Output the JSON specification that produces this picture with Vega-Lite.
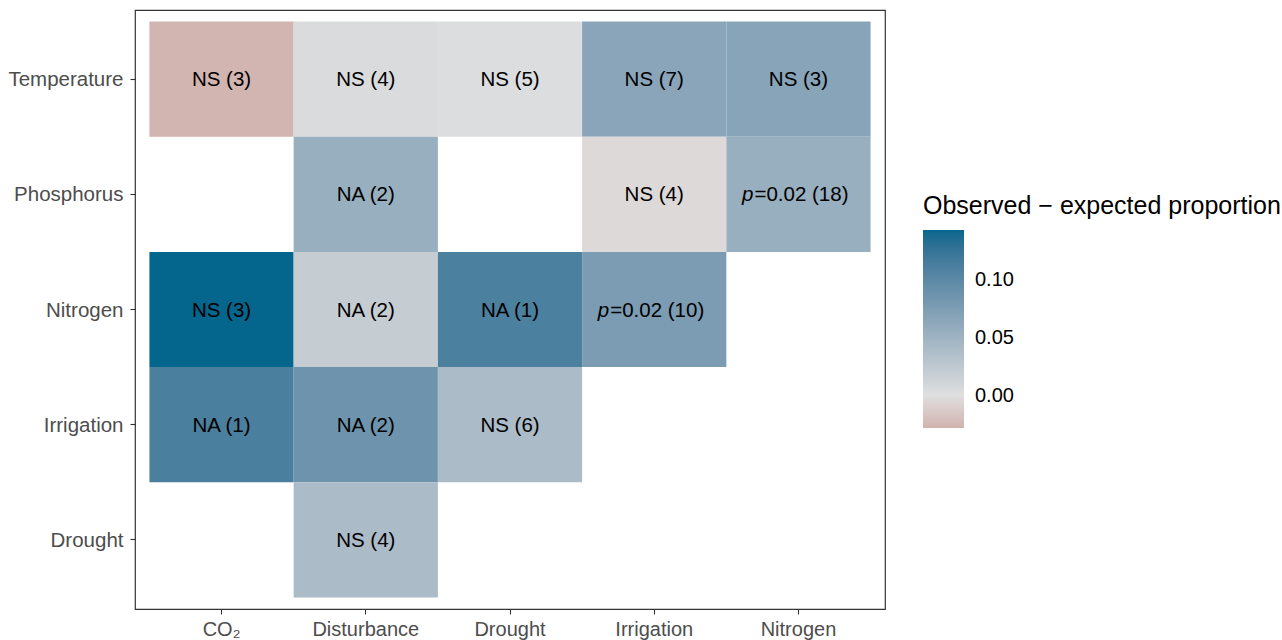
{
  "$schema": "https://vega.github.io/schema/vega-lite/v6.json",
  "width": 750,
  "height": 599,
  "autosize": {"type": "none"},
  "padding": {"left": 135, "top": 10, "right": 397, "bottom": 31},
  "background": "white",
  "config": {
    "font": "Liberation Sans",
    "view": {"stroke": "#333333", "strokeWidth": 1.2},
    "axis": {"grid": false, "domain": false, "tickColor": "#333333", "tickSize": 5, "tickWidth": 1.1, "labelColor": "#4d4d4d", "labelFontSize": 20, "labelFont": "Liberation Sans", "title": null}
  },
  "data": {
    "values": [
      {"x": "CO₂", "y": "Temperature", "value": -0.027, "label": "NS (3)", "pre": "", "rest": ""},
      {"x": "Disturbance", "y": "Temperature", "value": 0.005, "label": "NS (4)", "pre": "", "rest": ""},
      {"x": "Drought", "y": "Temperature", "value": 0.002, "label": "NS (5)", "pre": "", "rest": ""},
      {"x": "Irrigation", "y": "Temperature", "value": 0.066, "label": "NS (7)", "pre": "", "rest": ""},
      {"x": "Nitrogen", "y": "Temperature", "value": 0.067, "label": "NS (3)", "pre": "", "rest": ""},
      {"x": "Disturbance", "y": "Phosphorus", "value": 0.055, "label": "NA (2)", "pre": "", "rest": ""},
      {"x": "Irrigation", "y": "Phosphorus", "value": -0.004, "label": "NS (4)", "pre": "", "rest": ""},
      {"x": "Nitrogen", "y": "Phosphorus", "value": 0.055, "label": "", "pre": "p", "rest": "=0.02 (18)"},
      {"x": "CO₂", "y": "Nitrogen", "value": 0.143, "label": "NS (3)", "pre": "", "rest": ""},
      {"x": "Disturbance", "y": "Nitrogen", "value": 0.02, "label": "NA (2)", "pre": "", "rest": ""},
      {"x": "Drought", "y": "Nitrogen", "value": 0.111, "label": "NA (1)", "pre": "", "rest": ""},
      {"x": "Irrigation", "y": "Nitrogen", "value": 0.077, "label": "", "pre": "p", "rest": "=0.02 (10)"},
      {"x": "CO₂", "y": "Irrigation", "value": 0.112, "label": "NA (1)", "pre": "", "rest": ""},
      {"x": "Disturbance", "y": "Irrigation", "value": 0.087, "label": "NA (2)", "pre": "", "rest": ""},
      {"x": "Drought", "y": "Irrigation", "value": 0.04, "label": "NS (6)", "pre": "", "rest": ""},
      {"x": "Disturbance", "y": "Drought", "value": 0.04, "label": "NS (4)", "pre": "", "rest": ""}
    ]
  },
  "encoding": {
    "x": {"field": "x", "type": "nominal", "sort": ["CO₂", "Disturbance", "Drought", "Irrigation", "Nitrogen"],
      "scale": {"paddingInner": 0, "paddingOuter": 0.1},
      "axis": {"labelAngle": 0, "labelPadding": 5}},
    "y": {"field": "y", "type": "nominal", "sort": ["Temperature", "Phosphorus", "Nitrogen", "Irrigation", "Drought"],
      "scale": {"paddingInner": 0, "paddingOuter": 0.1},
      "axis": {"labelPadding": 7, "labelOffset": 1, "labelFontSize": 20.5}}
  },
  "layer": [
    {
      "mark": {"type": "rect"},
      "encoding": {
        "color": {
          "field": "value", "type": "quantitative",
          "scale": {"domain": [-0.028, 0, 0.143], "range": ["#d1b3ae", "#dfdfdf", "#05668d"], "interpolate": "lab"},
          "legend": {
            "title": "Observed − expected proportion",
            "orient": "none", "legendX": 788, "legendY": 184,
            "direction": "vertical",
            "gradientLength": 198, "gradientThickness": 41,
            "titleFontSize": 25, "titleFontWeight": "normal", "titleColor": "black", "titlePadding": 11, "titleFont": "Liberation Sans", "titleLimit": 500,
            "labelFontSize": 20, "labelColor": "black", "labelOffset": 11, "labelFont": "Liberation Sans",
            "values": [0, 0.05, 0.1], "format": ".2f",
            "gradientStrokeWidth": 0
          }
        }
      }
    },
    {
      "transform": [{"filter": "datum.pre == ''"}],
      "mark": {"type": "text", "fontSize": 20.5, "color": "black", "font": "Liberation Sans", "dy": 1},
      "encoding": {"text": {"field": "label"}}
    },
    {
      "transform": [{"filter": "datum.pre == 'p'"}],
      "mark": {"type": "text", "fontSize": 20.5, "color": "black", "font": "Liberation Sans", "fontStyle": "italic", "align": "right", "dx": -45, "dy": 1},
      "encoding": {"text": {"field": "pre"}}
    },
    {
      "transform": [{"filter": "datum.pre == 'p'"}],
      "mark": {"type": "text", "fontSize": 20.5, "color": "black", "font": "Liberation Sans", "align": "left", "dx": -44, "dy": 1},
      "encoding": {"text": {"field": "rest"}}
    }
  ]
}
